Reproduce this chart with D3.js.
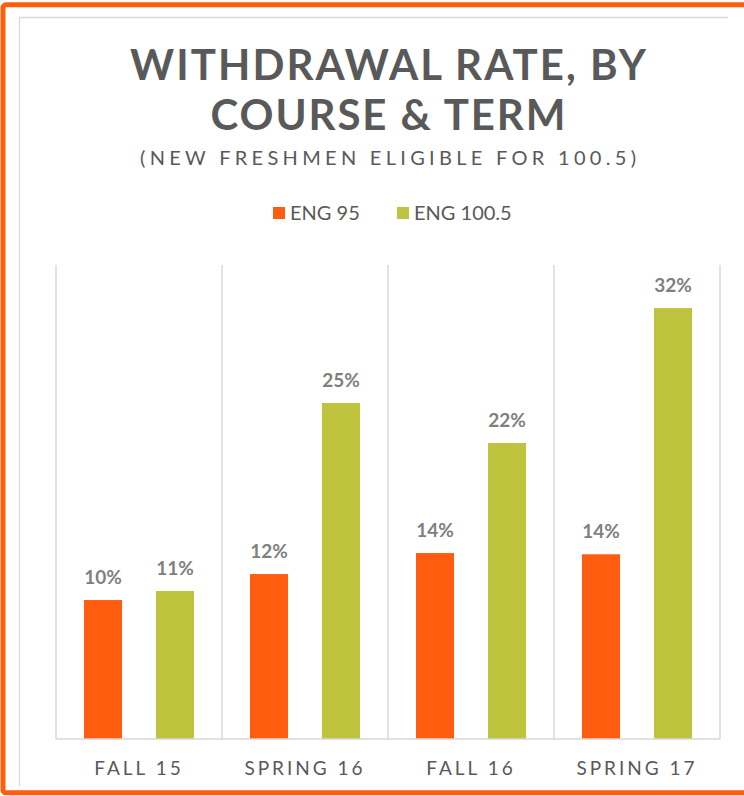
<!DOCTYPE html>
<html>
<head>
<meta charset="utf-8">
<script src="https://cdn.jsdelivr.net/npm/d3@7"></script>
<style>
  body { margin: 0; background: #fff; }
  svg { display: block; font-family: Lato, "Open Sans", sans-serif; }
</style>
</head>
<body>
<div class="canvas"></div>
<script>
// data
const terms = ["FALL 15", "SPRING 16", "FALL 16", "SPRING 17"];
const series = ["ENG 95", "ENG 100.5"];
const eng95 = [10.26, 12.18, 13.73, 13.64];
const eng1005 = [10.93, 24.81, 21.86, 31.82];
const colors = ["#fe5d0f", "#bec43d"];

// sizes
const w = 744;
const h = 796;
const plot = { left: 56, right: 720, top: 265, bottom: 739 };

const svg = d3.select(".canvas").append("svg").attr("width", w).attr("height", h);

// outer orange frame + inner grey edge
svg.append("rect")
  .attr("x", 3).attr("y", 4.8).attr("width", 780).attr("height", 788)
  .attr("rx", 3)
  .attr("fill", "none").attr("stroke", "#fe5d0f").attr("stroke-width", 5);
svg.append("path")
  .attr("d", "M19.5,786 V17.5 H728")
  .attr("fill", "none").attr("stroke", "#d9d9d9").attr("stroke-width", 1.3);

const cx = (plot.left + plot.right) / 2;

// title lines, stretched to the widths in the picture
const title = [
  { t: "WITHDRAWAL RATE, BY", y: 80, size: 42, len: 516 },
  { t: "COURSE & TERM", y: 130, size: 42, len: 355 },
];
title.forEach((d) => {
  svg.append("text")
    .attr("x", cx).attr("y", d.y)
    .attr("text-anchor", "middle")
    .attr("font-size", d.size).attr("font-weight", 700)
    .attr("fill", "#595959")
    .attr("textLength", d.len).attr("lengthAdjust", "spacing")
    .text(d.t);
});

svg.append("text")
  .attr("x", cx).attr("y", 165)
  .attr("text-anchor", "middle")
  .attr("font-size", 20)
  .attr("fill", "#595959")
  .attr("textLength", 496).attr("lengthAdjust", "spacing")
  .text("(NEW FRESHMEN ELIGIBLE FOR 100.5)");

// legend
const legendPos = [273, 397];
const legend = svg.append("g").selectAll("g").data(series).enter().append("g")
  .attr("transform", (d, i) => `translate(${legendPos[i]}, 207)`);
legend.append("rect").attr("width", 12).attr("height", 12).attr("fill", (d, i) => colors[i]);
legend.append("text")
  .attr("x", 17).attr("y", 13)
  .attr("font-size", 20).attr("fill", "#595959")
  .text((d) => d);

// scales
const x0 = d3.scaleBand().domain(terms).range([plot.left, plot.right]);
const x1 = d3.scaleBand().domain(series).range([0, x0.bandwidth()])
  .paddingInner(0.472).paddingOuter(0.389);
const y = d3.scaleLinear().domain([0, 35]).range([plot.bottom, plot.top]);

// category separators
const graph = svg.append("g");
graph.selectAll("line.sep")
  .data(terms.concat([null]))
  .enter().append("line")
  .attr("class", "sep")
  .attr("x1", (d, i) => plot.left + i * x0.step())
  .attr("x2", (d, i) => plot.left + i * x0.step())
  .attr("y1", plot.top).attr("y2", plot.bottom)
  .attr("stroke", "#d9d9d9").attr("stroke-width", 1.5);

// bars
const rows = terms.map((t, i) => ({ term: t, vals: [eng95[i], eng1005[i]] }));
const groups = graph.selectAll("g.term").data(rows).enter().append("g")
  .attr("class", "term")
  .attr("transform", (d) => `translate(${x0(d.term)},0)`);

groups.selectAll("rect")
  .data((d) => d.vals.map((v, i) => ({ s: series[i], v: v, i: i })))
  .enter().append("rect")
  .attr("x", (d) => x1(d.s))
  .attr("width", x1.bandwidth())
  .attr("y", (d) => y(d.v))
  .attr("height", (d) => y(0) - y(d.v))
  .attr("fill", (d) => colors[d.i]);

groups.selectAll("text")
  .data((d) => d.vals.map((v, i) => ({ s: series[i], v: v })))
  .enter().append("text")
  .attr("x", (d) => x1(d.s) + x1.bandwidth() / 2)
  .attr("y", (d) => y(d.v) - 16)
  .attr("text-anchor", "middle")
  .attr("font-size", 19).attr("font-weight", 700)
  .attr("fill", "#7f7f7f")
  .text((d) => Math.round(d.v) + "%");

// baseline
graph.append("line")
  .attr("x1", plot.left).attr("x2", plot.right)
  .attr("y1", plot.bottom).attr("y2", plot.bottom)
  .attr("stroke", "#d9d9d9").attr("stroke-width", 1.5);

// x axis labels
const xAxis = d3.axisBottom(x0).tickSize(0).tickPadding(0);
const ax = svg.append("g").attr("transform", `translate(0, ${plot.bottom})`).call(xAxis);
ax.select(".domain").remove();
ax.selectAll("text")
  .attr("y", 36).attr("dy", null)
  .attr("font-family", "Lato, sans-serif")
  .attr("font-size", 19)
  .attr("letter-spacing", 3)
  .attr("fill", "#595959");
</script>
</body>
</html>
